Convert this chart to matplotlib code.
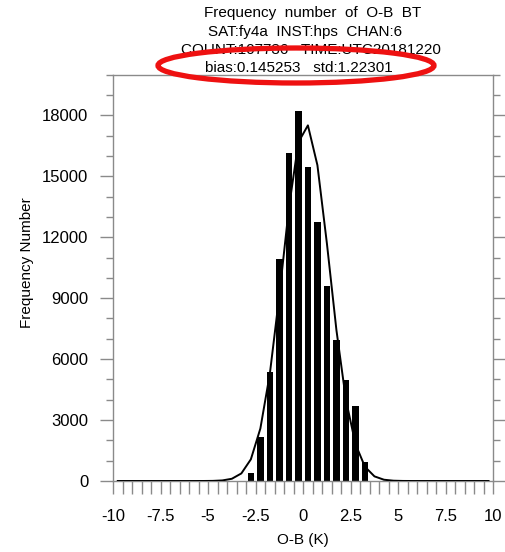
import matplotlib
matplotlib.use("Agg")
import matplotlib.pyplot as plt
from matplotlib.patches import Ellipse
import numpy as np

plt.rcParams['font.family'] = ['Liberation Sans', 'DejaVu Sans']

# ---- data ----
bar_centers = [-2.75, -2.25, -1.75, -1.25, -0.75, -0.25, 0.25, 0.75, 1.25, 1.75, 2.25, 2.75, 3.25]
bar_counts = [400, 2180, 5350, 10950, 16150, 18200, 15450, 12750, 9600, 6950, 4950, 3700, 950]

curve_x = [-9.75, -9.25, -8.75, -8.25, -7.75, -7.25, -6.75, -6.25, -5.75, -5.25,
           -4.75, -4.25, -3.75, -3.25, -2.75, -2.25, -1.75, -1.25, -0.75, -0.25,
           0.25, 0.75, 1.25, 1.75, 2.25, 2.75, 3.25, 3.75, 4.25, 4.75,
           5.25, 5.75, 6.25, 6.75, 7.25, 7.75, 8.25, 8.75, 9.25, 9.75]
curve_y = [0, 0, 0, 0, 0, 0, 0, 0, 0, 1,
           6, 28, 110, 373, 1067, 2583, 5288, 9163, 13441, 16675,
           17506, 15546, 11687, 7428, 3998, 1819, 700, 228, 63, 15,
           3, 0, 0, 0, 0, 0, 0, 0, 0, 0]

x_ticks = [-10, -7.5, -5, -2.5, 0, 2.5, 5, 7.5, 10]
x_tick_labels = ["-10", "-7.5", "-5", "-2.5", "0", "2.5", "5", "7.5", "10"]
y_ticks = [0, 3000, 6000, 9000, 12000, 15000, 18000]

title_lines = ["Frequency  number  of  O-B  BT",
               "SAT:fy4a  INST:hps  CHAN:6",
               "COUNT:107736   TIME:UTC20181220",
               "bias:0.145253   std:1.22301"]

W, H = 506, 552
fig = plt.figure(figsize=(W / 100, H / 100), dpi=100)
ax = fig.add_axes([113 / W, 1 - 481 / H, (493.3 - 113) / W, (481 - 74.7) / H])

ax.bar(bar_centers, bar_counts, width=0.35, color='black', zorder=2)
ax.plot(curve_x, curve_y, color='black', lw=1.4, zorder=3)

ax.set_xlim(-10, 10)
ax.set_ylim(0, 20000)

gray = '#8a8a8a'
for s in ax.spines.values():
    s.set_color(gray)
    s.set_linewidth(1.0)

all_x = np.arange(-10, 10.01, 0.5)
ax.set_xticks(all_x)
ax.set_xticklabels([next((l for t, l in zip(x_ticks, x_tick_labels) if abs(t - v) < 1e-6), "")
                    for v in all_x])
ax.tick_params(axis='x', which='major', direction='out', length=9, width=1.0,
               color=gray, labelsize=12, pad=11.5, top=False)

ax.set_yticks(y_ticks)
ax.set_yticklabels([str(v) for v in y_ticks])
ax.set_yticks(np.arange(0, 20001, 1000), minor=True)
ax.tick_params(axis='y', which='major', direction='out', length=9.4, width=1.0,
               color=gray, labelsize=12, pad=8.5, left=True, right=True)
ax.tick_params(axis='y', which='minor', direction='out', length=5, width=1.0,
               color=gray, left=True, right=True)

fig.text(303 / W, 1 - 540 / H, "O-B (K)", ha='center', va='center', fontsize=11)
fig.text(27 / W, 1 - 263 / H, "Frequency Number", ha='center', va='center',
         rotation=90, fontsize=11)

ys = [13, 32, 50, 68]
xs = [313, 305, 311, 299]
for line, x, y in zip(title_lines, xs, ys):
    fig.text(x / W, 1 - y / H, line, ha='center', va='center', fontsize=11)

ell = Ellipse((296 / W, 1 - 65.5 / H), 276 / W, 35 / H, transform=fig.transFigure,
              fill=False, edgecolor='#ee1111', linewidth=3.8, zorder=10)
fig.patches.append(ell)

fig.savefig("out.png", dpi=100)
